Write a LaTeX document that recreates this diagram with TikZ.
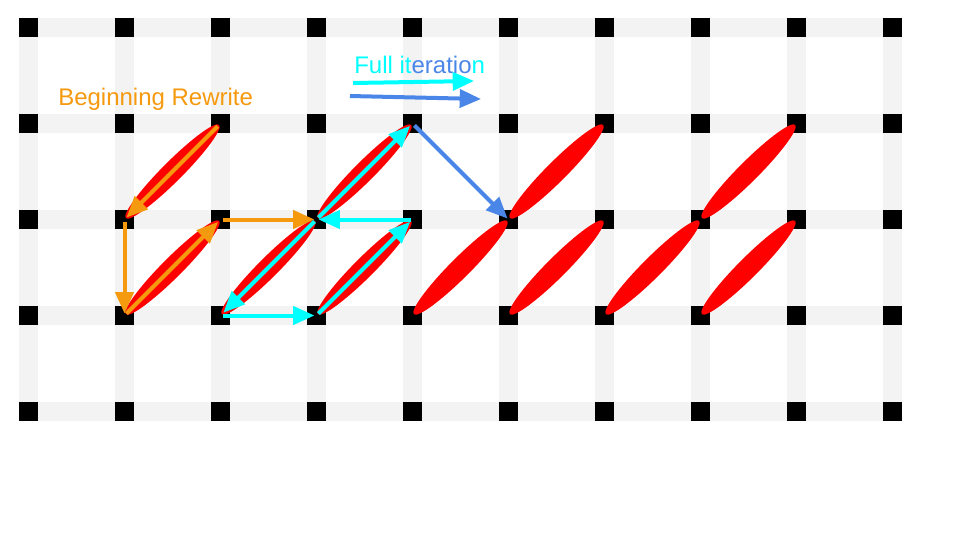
\documentclass[tikz,border=0pt]{standalone}
\usepackage{fontspec}
\setmainfont{Liberation Sans}
\usetikzlibrary{arrows.meta,shapes.geometric,calc}
\definecolor{gridgrey}{HTML}{F3F3F3}
\definecolor{orng}{HTML}{F59A0F}
\definecolor{cyn}{HTML}{00FFFF}
\definecolor{blu}{HTML}{4A86E8}
\definecolor{rd}{HTML}{FF0000}
\tikzset{
  band/.style={gridgrey, line width=14.25pt},
  sq/.style={fill=black, minimum size=14.25pt, inner sep=0pt, draw=none},
  lobe/.style={ellipse, fill=rd, draw=none, inner sep=0pt, minimum width=99pt, minimum height=15pt, rotate=45},
  arr/.style={line width=3pt, -{Triangle[length=16pt,width=13.5pt]}, shorten <=1.5pt, shorten >=1.5pt},
  oarr/.style={arr, orng},
  carr/.style={arr, cyn},
  barr/.style={arr, blu},
  lbl/.style={inner sep=0pt, anchor=base west, font=\fontsize{18}{21.6}\selectfont}
}
\begin{document}
\begin{tikzpicture}[x=0.75pt,y=-0.75pt]
\useasboundingbox (0,0) rectangle (960,540);
\fill[white] (0,0) rectangle (960,540);
% grid coordinates
\foreach \i in {0,...,9}{
  \foreach \j in {0,...,4}{
    \coordinate (g\i\j) at ({28.5+96*\i},{27.5+96*\j});
  }
}
% bands
\foreach \j in {0,...,4}{ \draw[band] (g0\j) -- (g9\j); }
\foreach \i in {0,...,9}{ \draw[band] (g\i0) -- (g\i4); }
% squares
\foreach \i in {0,...,9}{
  \foreach \j in {0,...,4}{
    \node[sq] (s\i\j) at (g\i\j) {};
  }
}
% ellipses
\foreach \a/\b/\c/\d [count=\n] in {1/2/2/1, 1/3/2/2, 2/3/3/2, 3/2/4/1, 3/3/4/2, 4/3/5/2, 5/2/6/1, 5/3/6/2, 6/3/7/2, 7/2/8/1, 7/3/8/2}{
  \node[lobe] (e\n) at ($(g\a\b)!0.5!(g\c\d)$) {};
}
% orange arrows
\draw[oarr, shorten <=3pt, shorten >=2pt] (g21) -- (g12);
\draw[oarr] (g12) -- (g13);
\draw[oarr, shorten <=2pt, shorten >=2.5pt] (g13) -- (g22);
\draw[oarr] (g22) -- (g32);
% cyan arrows
\draw[carr, shorten <=2pt, shorten >=3pt] (g32) -- (g23);
\draw[carr] (g23) -- (g33);
\draw[carr, shorten <=2pt, shorten >=2.5pt] (g33) -- (g42);
\draw[carr] (g42) -- (g32);
\draw[carr, shorten <=2pt, shorten >=2.5pt] (g32) -- (g41);
% blue arrow
\draw[barr, shorten <=2pt, shorten >=1pt] (g41) -- (g52);
% legend
\coordinate (lc1) at (353,83);
\coordinate (lc2) at (474,81);
\coordinate (lb1) at (350,96);
\coordinate (lb2) at (481,99);
\draw[carr, shorten <=0pt, shorten >=0pt] (lc1) -- (lc2);
\draw[barr, shorten <=0pt, shorten >=0pt] (lb1) -- (lb2);
\node[lbl, text=orng] (t1) at (58,105) {Beginning Rewrite};
\node[lbl] (t2) at (354,73) {\textcolor{cyn}{Full it}\textcolor{blu}{eratio}\textcolor{cyn}{n}};
\end{tikzpicture}
\end{document}
